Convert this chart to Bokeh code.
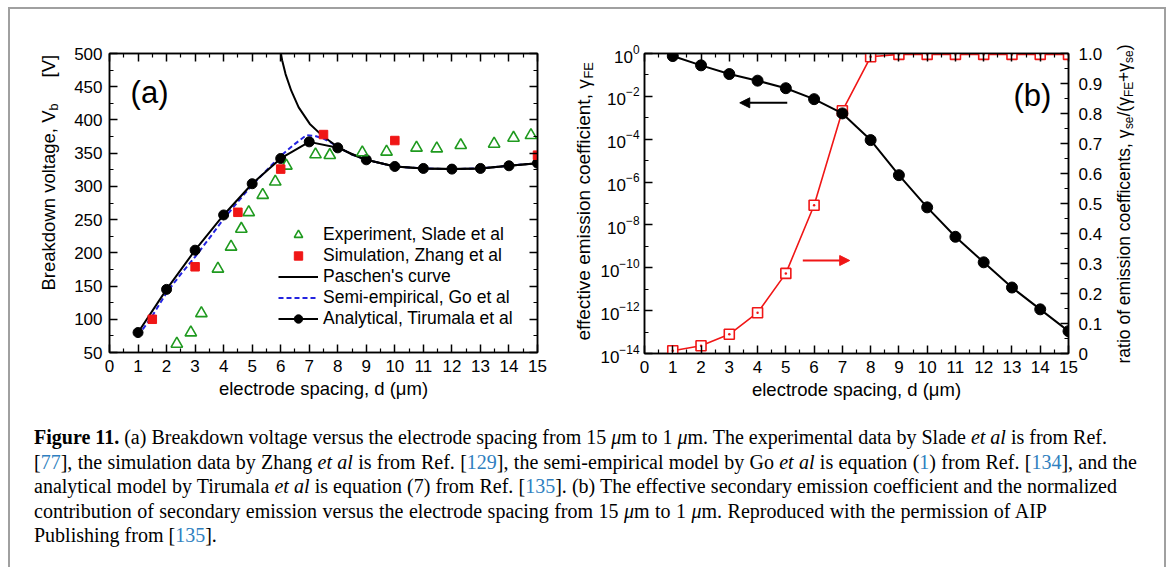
from math import pi

from bokeh.plotting import figure
from bokeh.models import (Range1d, LinearAxis, LinearScale, FixedTicker, Label, Legend,
                          LegendItem, Arrow, NormalHead, Div, CustomLabelingPolicy,
                          ColumnDataSource)
from bokeh.layouts import row, column
from bokeh.embed import file_html
from bokeh.resources import INLINE
from bokeh.core.properties import value

# ---------------- panel (a): breakdown voltage vs electrode spacing ----------------
exp_d = [2.36, 2.85, 3.22, 3.80, 4.26, 4.62, 4.88, 5.37, 5.81, 6.20,
         7.22, 7.72, 8.86, 9.71, 10.76, 11.47, 12.31, 13.48, 14.16, 14.77]
exp_v = [63, 80, 109, 176, 209, 236, 261, 287, 307, 331,
         348, 347, 351, 352, 358, 357, 362, 364, 373, 377]

sim_d = [1.5, 3.0, 4.5, 6.0, 7.5, 10.0, 15.0]
sim_v = [100, 179, 261, 326, 378, 369, 347]

paschen_d = [6.0, 6.05, 6.17, 6.37, 6.63, 7.02, 7.39, 7.69, 7.98, 8.5,
             9, 10, 11, 12, 13, 14, 15]
paschen_v = [502, 490, 469, 444, 419, 394, 379, 369, 360, 348,
             340, 330, 327, 326, 327, 331, 335]

semi_d = [1, 1.5, 2, 2.5, 3, 3.5, 4, 4.5, 5, 5.5, 6, 6.5, 6.9, 7.2, 7.5, 7.8,
          8, 8.5, 9, 10, 11, 12, 13, 14, 15]
semi_v = [75, 105, 140, 168, 194, 222, 251, 277, 302, 324, 346, 364, 377, 376, 372, 365,
          359, 348, 340, 330, 327, 326, 327, 331, 335]

ana_d = [1, 2, 3, 4, 5, 6, 7, 8, 9, 10, 11, 12, 13, 14, 15]
ana_v = [80, 145, 204, 257, 304, 342, 367, 358, 340, 330, 327, 326, 327, 331, 335]

# ---------------- panel (b): emission coefficients ----------------
gap_d = [1, 2, 3, 4, 5, 6, 7, 8, 9, 10, 11, 12, 13, 14, 15]
gamma_fe = [0.76, 0.28, 0.11, 0.054, 0.024, 7.4e-3, 1.6e-3, 9.1e-5, 2.1e-6, 6.6e-8,
            2.8e-9, 1.8e-10, 1.2e-11, 1.15e-12, 1.1e-13]
ratio_se = [0.009, 0.026, 0.064, 0.136, 0.267, 0.494, 0.809, 0.989, 0.997, 0.997,
            0.997, 0.997, 0.997, 0.997, 0.997]

x_ticks = [0, 1, 2, 3, 4, 5, 6, 7, 8, 9, 10, 11, 12, 13, 14, 15]
x_minor = [0.5, 1.5, 2.5, 3.5, 4.5, 5.5, 6.5, 7.5, 8.5, 9.5, 10.5, 11.5, 12.5, 13.5, 14.5]
va_ticks = [50, 100, 150, 200, 250, 300, 350, 400, 450, 500]
va_minor = [75, 125, 175, 225, 275, 325, 375, 425, 475]
log_ticks = [1e-14, 1e-12, 1e-10, 1e-8, 1e-6, 1e-4, 1e-2, 1.0]
log_minor = [1e-13, 1e-11, 1e-9, 1e-7, 1e-5, 1e-3, 1e-1]
ratio_ticks = [0, 0.1, 0.2, 0.3, 0.4, 0.5, 0.6, 0.7, 0.8, 0.9, 1.0]
ratio_minor = [0.05, 0.15, 0.25, 0.35, 0.45, 0.55, 0.65, 0.75, 0.85, 0.95]

FONT = "Liberation Sans"
GREEN = "#1f9a1f"
RED = "#f01616"
BLUE = "#2323e0"

PANEL_H = 401          # height of every figure in the top row
ROW_TOP = 9            # page y of the top row (margin + border)

# approximate advance widths (em) used to chain title pieces
ADV = {' ': .278, ',': .278, '.': .278, '(': .333, ')': .333, '[': .278, ']': .278,
       '/': .278, '+': .584, 'a': .556, 'b': .556, 'c': .5, 'd': .556, 'e': .556,
       'f': .278, 'g': .556, 'h': .556, 'i': .222, 'k': .5, 'l': .222, 'm': .833,
       'n': .556, 'o': .556, 'p': .556, 'r': .333, 's': .5, 't': .278, 'u': .556,
       'v': .5, 'w': .722, 'y': .5, 'B': .667, 'E': .667, 'F': .611, 'V': .667,
       'γ': .5}


def text_len(txt, size):
    return sum(ADV.get(ch, .556) for ch in txt) * size


def style_axis(ax, label_size="17px", standoff=7):
    ax.major_label_text_font = FONT
    ax.major_label_text_font_size = label_size
    ax.major_label_text_color = "black"
    ax.major_label_standoff = standoff
    ax.axis_line_color = "black"
    ax.axis_line_width = 1.5
    ax.major_tick_line_color = "black"
    ax.major_tick_line_width = 1.5
    ax.minor_tick_line_color = "black"
    ax.minor_tick_line_width = 1.2
    ax.major_tick_in = 8
    ax.major_tick_out = 0
    ax.minor_tick_in = 4
    ax.minor_tick_out = 0
    ax.axis_label_text_font = FONT
    ax.axis_label_text_font_size = "18.5px"
    ax.axis_label_text_font_style = "normal"
    ax.axis_label_text_color = "black"
    ax.axis_label_standoff = 3


def mirror_axis(ax):
    # tick marks only: the labeling policy keeps none of the labels
    style_axis(ax, label_size="1px", standoff=0)
    ax.major_label_policy = CustomLabelingPolicy(code="return []")


def base_figure(**kw):
    p = figure(output_backend="svg", toolbar_location=None, background_fill_color="white",
               border_fill_color="white", **kw)
    p.xgrid.visible = False
    p.ygrid.visible = False
    p.outline_line_color = "black"
    p.outline_line_width = 1.5
    return p


def title_strip(width, pieces, cx, y_start, size):
    """Narrow figure that carries one rotated axis title built from normal and
    subscript pieces, read bottom to top. cx: centre line, y_start: page y of the start.
    A piece may carry its own page y start as a third element."""
    p = figure(title=None, frame_width=width, frame_height=PANEL_H,
               x_range=Range1d(0, width), y_range=Range1d(0, PANEL_H),
               output_backend="svg", toolbar_location=None, min_border=0,
               min_border_left=0, min_border_right=0, min_border_top=0, min_border_bottom=0,
               x_axis_location=None, y_axis_location=None, outline_line_color=None,
               background_fill_color="white", border_fill_color="white",
               frame_align=False)
    p.xgrid.visible = False
    p.ygrid.visible = False
    xs, ys, texts, sizes = [], [], [], []
    y = ROW_TOP + PANEL_H - y_start
    for piece in pieces:
        txt, sub = piece[0], piece[1]
        if len(piece) > 2:
            y = ROW_TOP + PANEL_H - piece[2]
        fs = size * 0.68 if sub else size
        xs.append(cx + (5 if sub else 0))
        ys.append(y)
        texts.append(txt)
        sizes.append(f"{fs:.1f}px")
        y += text_len(txt, fs)
    src = ColumnDataSource(dict(x=xs, y=ys, text=texts, size=sizes))
    p.text(x="x", y="y", text="text", source=src, angle=pi / 2, text_align="left",
           text_baseline="middle", text_font=value(FONT), text_font_size="size",
           text_color="black")
    return p


# ================= panel (a) =================
pa = base_figure(frame_width=428, frame_height=299,
                 x_range=Range1d(0, 15), y_range=Range1d(50, 500),
                 min_border_left=39, min_border_right=23, min_border_top=44,
                 min_border_bottom=58)

xa = pa.xaxis[0]
xa.ticker = FixedTicker(ticks=x_ticks, minor_ticks=x_minor)
style_axis(xa)
xa.axis_label = "electrode spacing, d (μm)"
ya = pa.yaxis[0]
ya.ticker = FixedTicker(ticks=va_ticks, minor_ticks=va_minor)
style_axis(ya)

top_a = LinearAxis(ticker=FixedTicker(ticks=x_ticks, minor_ticks=x_minor))
mirror_axis(top_a)
pa.add_layout(top_a, "above")
right_a = LinearAxis(ticker=FixedTicker(ticks=va_ticks, minor_ticks=va_minor))
mirror_axis(right_a)
pa.add_layout(right_a, "right")

r_semi = pa.line(semi_d, semi_v, line_color=BLUE, line_width=2, line_dash="5 3")
r_pas = pa.line(paschen_d, paschen_v, line_color="black", line_width=2)
r_ana_l = pa.line(ana_d, ana_v, line_color="black", line_width=2)
r_ana_m = pa.scatter(ana_d, ana_v, marker="circle", size=10, fill_color="black",
                     line_color="black")
r_exp = pa.scatter(exp_d, exp_v, marker="triangle", size=11.5, fill_color=None,
                   line_color=GREEN, line_width=1.6)
r_sim = pa.scatter(sim_d, sim_v, marker="square", size=8.5, fill_color=RED,
                   line_color=RED)

legend = Legend(items=[
    LegendItem(label="Experiment, Slade et al", renderers=[r_exp]),
    LegendItem(label="Simulation, Zhang et al", renderers=[r_sim]),
    LegendItem(label="Paschen's curve", renderers=[r_pas]),
    LegendItem(label="Semi-empirical, Go et al", renderers=[r_semi]),
    LegendItem(label="Analytical, Tirumala et al", renderers=[r_ana_l, r_ana_m]),
], location=(169, 23))
legend.label_text_font = FONT
legend.label_text_font_size = "17.5px"
legend.label_text_color = "black"
legend.label_height = 21
legend.glyph_height = 21
legend.glyph_width = 40
legend.label_standoff = 5
legend.spacing = 0
legend.padding = 0
legend.margin = 0
legend.border_line_alpha = 0
legend.background_fill_alpha = 0
pa.add_layout(legend)

pa.add_layout(Label(x=0.74, y=441, text="(a)", text_font=FONT, text_font_size="31px",
                    text_baseline="middle", text_color="black"))

# ================= panel (b) =================
pb = base_figure(frame_width=424, frame_height=300,
                 x_range=Range1d(0, 15), y_range=Range1d(1e-14, 1.0), y_axis_type="log",
                 min_border_left=46, min_border_right=41, min_border_top=43,
                 min_border_bottom=58)
pb.extra_y_ranges = {"ratio": Range1d(0, 1)}
pb.extra_y_scales = {"ratio": LinearScale()}

xb = pb.xaxis[0]
xb.ticker = FixedTicker(ticks=x_ticks, minor_ticks=x_minor)
style_axis(xb)
xb.axis_label = "electrode spacing, d (μm)"
yb = pb.yaxis[0]
yb.ticker = FixedTicker(ticks=log_ticks, minor_ticks=log_minor)
style_axis(yb, standoff=5)

top_b = LinearAxis(ticker=FixedTicker(ticks=x_ticks, minor_ticks=x_minor))
mirror_axis(top_b)
pb.add_layout(top_b, "above")
right_b = LinearAxis(y_range_name="ratio",
                     ticker=FixedTicker(ticks=ratio_ticks, minor_ticks=ratio_minor))
style_axis(right_b, standoff=10)
right_b.major_label_overrides = {0: "0", 1: "1.0"}
pb.add_layout(right_b, "right")

pb.line(gap_d, ratio_se, y_range_name="ratio", line_color=RED, line_width=1.6)
pb.scatter(gap_d, ratio_se, y_range_name="ratio", marker="square_dot", size=10,
           fill_color="white", line_color=RED, line_width=1.6)
pb.line(gap_d, gamma_fe, line_color="black", line_width=2)
pb.scatter(gap_d, gamma_fe, marker="circle", size=11, fill_color="black",
           line_color="black")

pb.add_layout(Arrow(end=NormalHead(size=10, fill_color="black", line_color="black"),
                    x_start=5.05, y_start=5e-3, x_end=3.37, y_end=5e-3,
                    line_color="black", line_width=2))
pb.add_layout(Arrow(end=NormalHead(size=10, fill_color=RED, line_color=RED),
                    x_start=5.6, y_start=0.31, x_end=7.26, y_end=0.31,
                    y_range_name="ratio", line_color=RED, line_width=2))

pb.add_layout(Label(x=13.05, y=0.0115, text="(b)", text_font=FONT, text_font_size="31px",
                    text_baseline="middle", text_color="black"))

# ================= rotated axis titles =================
strip_a = title_strip(60, [("Breakdown voltage, V", False), ("b", True), ("[V]", False, 77)],
                      cx=38, y_start=290, size=18.5)
strip_b = title_strip(37, [("effective emission coefficient, γ", False), ("FE", True)],
                      cx=23, y_start=340, size=19)
strip_c = title_strip(55, [("ratio of emission coefficents, γ", False), ("se", True),
                           ("/(γ", False), ("FE", True), ("+γ", False), ("se", True),
                           (")", False)],
                      cx=14, y_start=363, size=17.5)

# ================= caption =================
def ref(n):
    return f'<span style="color:#2f7fc0">{n}</span>'


caption_lines = [
    ('<b>Figure 11.</b> (a) Breakdown voltage versus the electrode spacing from 15 <i>μ</i>m '
     'to 1 <i>μ</i>m. The experimental data by Slade <i>et al</i> is from Ref.', 1073),
    (f'[{ref(77)}], the simulation data by Zhang <i>et al</i> is from Ref. [{ref(129)}], the '
     f'semi-empirical model by Go <i>et al</i> is equation ({ref(1)}) from Ref. [{ref(134)}], '
     'and the', 1103),
    (f'analytical model by Tirumala <i>et al</i> is equation (7) from Ref. [{ref(135)}]. (b) '
     'The effective secondary emission coefficient and the normalized', 1083),
    ('contribution of secondary emission versus the electrode spacing from 15 <i>μ</i>m to '
     '1 <i>μ</i>m. Reproduced with the permission of AIP', 1013),
    (f'Publishing from [{ref(135)}].', None),
]
html_lines = []
for txt, w in caption_lines:
    if w:
        html_lines.append(f'<div style="width:{w}px;white-space:nowrap;text-align:justify;'
                          f'text-align-last:justify">{txt}</div>')
    else:
        html_lines.append(f'<div style="white-space:nowrap">{txt}</div>')
caption_html = ('<div style="font-family:\'Liberation Serif\',serif;font-size:20px;'
                'line-height:24.5px;color:#000;padding:15px 0 0 24px">'
                + "".join(html_lines) + '</div>')
caption = Div(text=caption_html, width=1153, height=157, margin=0)

# the frame runs on past the bottom of the view, so no bottom edge is drawn
layout = column(row(strip_a, pa, strip_b, pb, strip_c), caption, margin=(7, 0, 0, 8),
                styles={"border-top": "2px solid #a0a0a0", "border-left": "2px solid #a0a0a0",
                        "border-right": "2px solid #a0a0a0"})

open("out.html", "w").write(file_html(layout, INLINE))
